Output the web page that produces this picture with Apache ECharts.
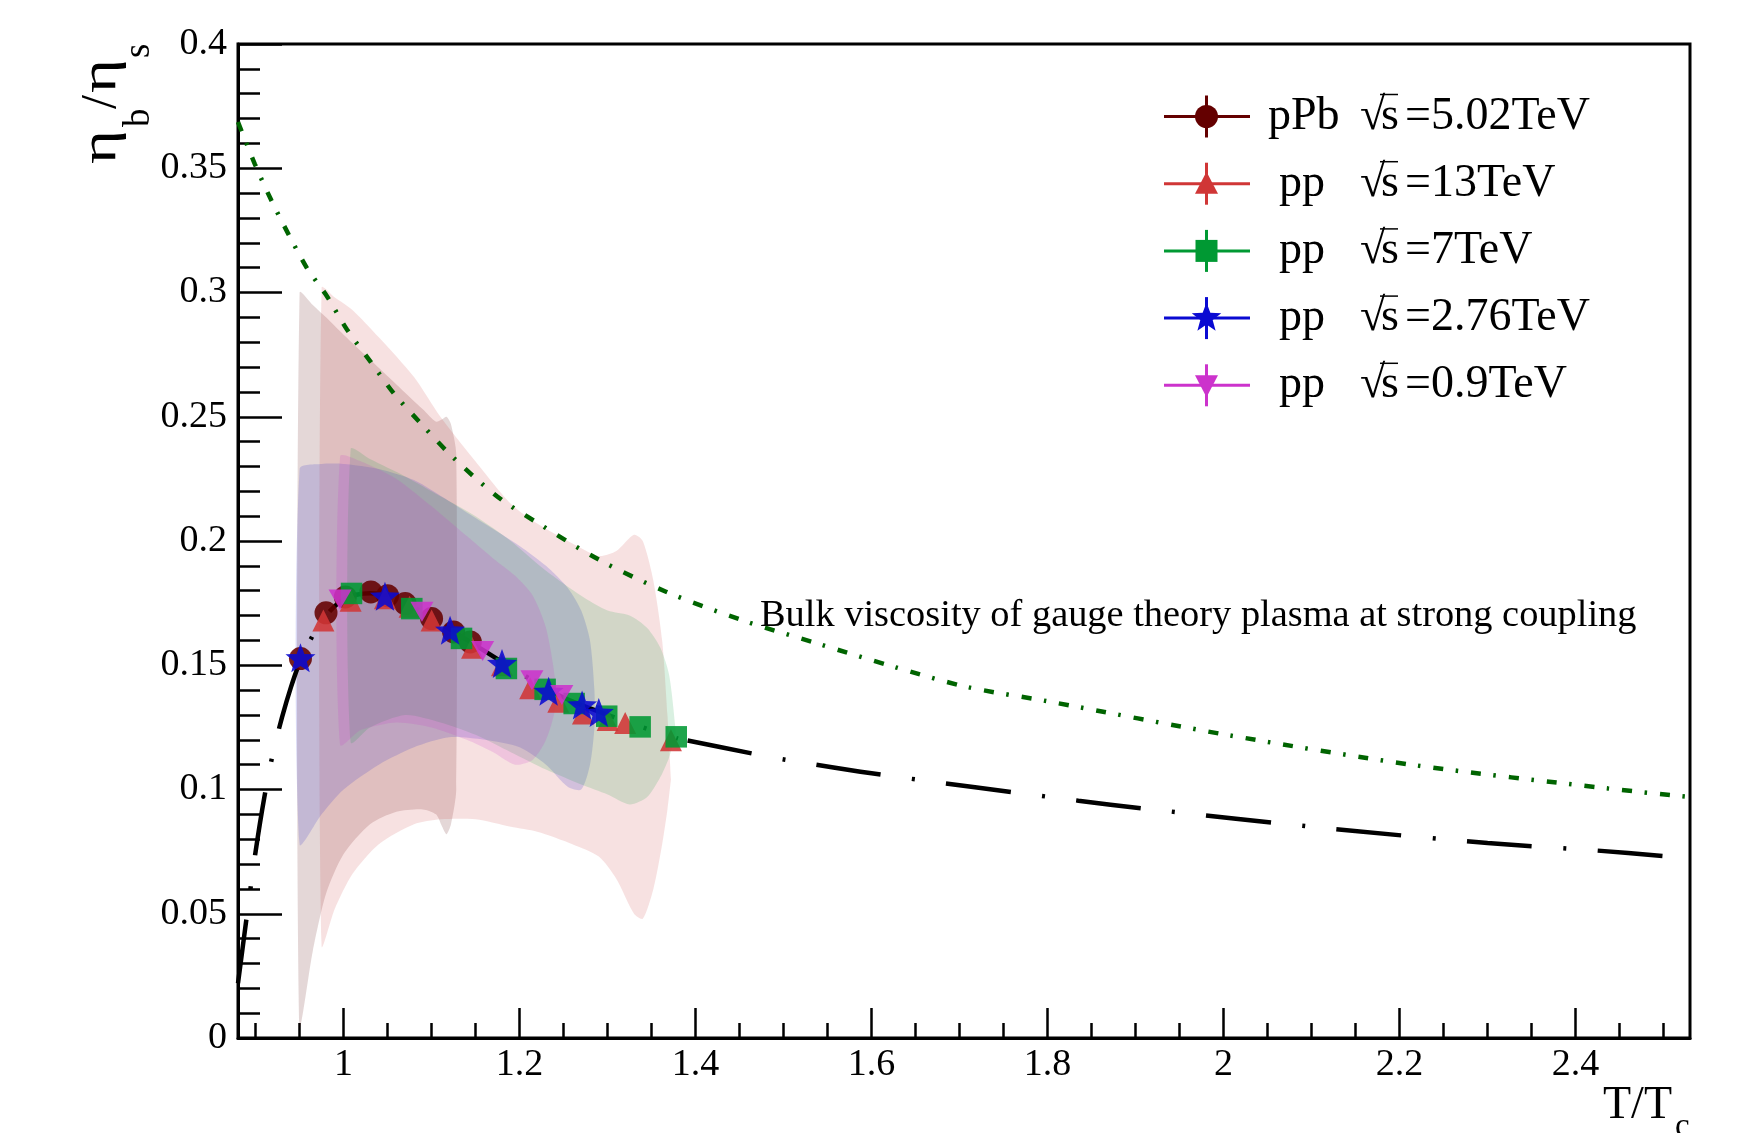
<!DOCTYPE html>
<html>
<head>
<meta charset="utf-8">
<script src="https://cdn.jsdelivr.net/npm/echarts@6/dist/echarts.min.js"></script>
<style>
html, body { margin: 0; padding: 0; background: #fff; }
#chart { width: 1739px; height: 1133px; }
</style>
</head>
<body>
<div id="chart"></div>
<script>
const FONT = '"Liberation Serif", "Times New Roman", serif';

// ---- axis ticks ----
const xMajorTicks = [1, 1.2, 1.4, 1.6, 1.8, 2, 2.2, 2.4];
const xMinorTicks = [0.9, 0.95, 1.05, 1.1, 1.15, 1.25, 1.3, 1.35, 1.45, 1.5, 1.55, 1.65, 1.7, 1.75,
  1.85, 1.9, 1.95, 2.05, 2.1, 2.15, 2.25, 2.3, 2.35, 2.45, 2.5];

// ---- measured points: T/Tc and eta_b/eta_s ----
const pPbT = [0.951, 0.980, 1.002, 1.031, 1.050, 1.070, 1.100, 1.125, 1.144];
const pPbR = [0.1527, 0.1711, 0.1775, 0.1795, 0.1780, 0.1748, 0.1688, 0.1634, 0.1594];

const pp13T = [0.977, 1.008, 1.047, 1.075, 1.100, 1.146, 1.180, 1.212, 1.244, 1.272, 1.300, 1.320, 1.372];
const pp13R = [0.1680, 0.1760, 0.1770, 0.1735, 0.1680, 0.1570, 0.1500, 0.1407, 0.1353, 0.1306, 0.1280, 0.1268, 0.1198];

const pp7T = [1.009, 1.0775, 1.134, 1.185, 1.229, 1.262, 1.299, 1.337, 1.378];
const pp7R = [0.1789, 0.1728, 0.1608, 0.1487, 0.1403, 0.1346, 0.1295, 0.1252, 0.1212];

const pp276T = [0.951, 1.047, 1.121, 1.180, 1.233, 1.271, 1.290];
const pp276R = [0.1530, 0.1778, 0.1641, 0.1507, 0.1395, 0.1340, 0.1310];

const pp09T = [0.996, 1.089, 1.158, 1.214, 1.248];
const pp09R = [0.1765, 0.1715, 0.1557, 0.1440, 0.1380];

// ---- uncertainty bands (lower / upper edge) ----
const bandPPbT  = [0.950, 0.965, 0.980, 1.000, 1.030, 1.060, 1.090, 1.105, 1.112, 1.117, 1.122, 1.128];
const bandPPbHi = [0.300, 0.295, 0.290, 0.283, 0.273, 0.263, 0.253, 0.248, 0.249, 0.250, 0.247, 0.235];
const bandPPbLo = [0.005, 0.035, 0.058, 0.074, 0.086, 0.091, 0.092, 0.090, 0.085, 0.082, 0.086, 0.100];

const band13T  = [0.975, 0.990, 1.010, 1.040, 1.080, 1.110, 1.150, 1.190, 1.220, 1.260, 1.290, 1.310, 1.330, 1.340, 1.352, 1.362, 1.368, 1.372];
const band13Hi = [0.302, 0.298, 0.293, 0.282, 0.266, 0.250, 0.232, 0.215, 0.207, 0.199, 0.194, 0.196, 0.2025, 0.200, 0.184, 0.160, 0.130, 0.104];
const band13Lo = [0.037, 0.052, 0.066, 0.078, 0.086, 0.088, 0.088, 0.085, 0.083, 0.078, 0.073, 0.064, 0.050, 0.048, 0.060, 0.078, 0.092, 0.104];

const band7T  = [1.008, 1.030, 1.070, 1.110, 1.150, 1.190, 1.230, 1.270, 1.300, 1.325, 1.345, 1.360, 1.370, 1.377];
const band7Hi = [0.237, 0.233, 0.226, 0.218, 0.210, 0.200, 0.188, 0.178, 0.172, 0.170, 0.165, 0.157, 0.146, 0.125];
const band7Lo = [0.119, 0.125, 0.130, 0.127, 0.122, 0.115, 0.108, 0.102, 0.098, 0.094, 0.097, 0.105, 0.113, 0.122];

const band276T  = [0.950, 0.975, 1.000, 1.040, 1.080, 1.120, 1.160, 1.200, 1.230, 1.255, 1.270, 1.280, 1.285];
const band276Hi = [0.229, 0.231, 0.231, 0.229, 0.2245, 0.216, 0.207, 0.198, 0.190, 0.181, 0.172, 0.160, 0.140];
const band276Lo = [0.078, 0.090, 0.100, 0.110, 0.117, 0.121, 0.120, 0.117, 0.110, 0.101, 0.100, 0.110, 0.125];

const band09T  = [0.996, 1.020, 1.060, 1.100, 1.140, 1.170, 1.195, 1.215, 1.230, 1.240];
const band09Hi = [0.234, 0.232, 0.225, 0.214, 0.202, 0.193, 0.186, 0.178, 0.165, 0.145];
const band09Lo = [0.118, 0.124, 0.127, 0.125, 0.120, 0.115, 0.110, 0.112, 0.120, 0.132];

// ---- model curves ----
// fit through the data, continued to higher temperature
const fitT = [0.880, 0.890, 0.900, 0.910, 0.920, 0.930, 0.940, 0.950, 0.965, 0.980, 1.000, 1.030, 1.060,
  1.100, 1.150, 1.200, 1.250, 1.300, 1.340, 1.380, 1.464, 1.502, 1.600, 1.835, 1.908, 2.120, 2.300, 2.429, 2.500];
const fitR = [0.022, 0.049, 0.075, 0.097, 0.115, 0.129, 0.141, 0.151, 0.162, 0.170, 0.1765, 0.179, 0.177,
  0.169, 0.158, 0.147, 0.137, 0.130, 0.125, 0.1205, 0.1145, 0.112, 0.1065, 0.0955, 0.0924, 0.0843, 0.0785, 0.0753, 0.0732];
const fitSplitT = 1.380;   // the fit is stroked in two pieces, joined here

// strong-coupling gauge theory plasma
const holoT = [0.880, 0.899, 0.918, 0.937, 0.958, 0.970, 0.982, 1.004, 1.031, 1.057, 1.086, 1.116, 1.148,
  1.180, 1.218, 1.291, 1.367, 1.454, 1.538, 1.625, 1.708, 1.800, 2.005, 2.217, 2.437, 2.530];
const holoR = [0.3686, 0.3518, 0.3370, 0.3237, 0.3100, 0.3040, 0.2980, 0.2850, 0.2720, 0.2594, 0.2480, 0.2366, 0.2259,
  0.2165, 0.2078, 0.1923, 0.1795, 0.1680, 0.1588, 0.1494, 0.1413, 0.1355, 0.1219, 0.1098, 0.1004, 0.0970];

// ---- legend entries ----
const legendSystems = ['pPb', 'pp', 'pp', 'pp', 'pp'];
const legendEnergies = ['=5.02TeV', '=13TeV', '=7TeV', '=2.76TeV', '=0.9TeV'];

const C_PPB = '#640000', C_13 = '#d03636', C_7 = '#009933', C_276 = '#0a0ad2', C_09 = '#cc33cc';

const measureCtx = document.createElement('canvas').getContext('2d');
function textWidth(t, font) { measureCtx.font = font; return measureCtx.measureText(t).width; }

function starPath(inner) {
  let d = '';
  for (let i = 0; i < 10; i++) {
    const r = i % 2 === 0 ? 50 : 50 * inner;
    const a = -Math.PI / 2 + i * Math.PI / 5;
    d += (i === 0 ? 'M' : 'L') + (50 + r * Math.cos(a)).toFixed(2) + ',' + (50 + r * Math.sin(a)).toFixed(2);
  }
  return 'path://' + d + 'Z';
}
const STAR = starPath(0.42);

const pairs = (xs, ys) => xs.map((x, i) => [x, ys[i]]);

function bandSeries(xs, lo, hi, fill) {
  return {
    type: 'custom',
    silent: true,
    z: 1,
    data: [[xs[0], hi[0]]],
    renderItem: function (params, api) {
      const pts = [];
      for (let i = 0; i < xs.length; i++) pts.push(api.coord([xs[i], hi[i]]));
      for (let i = xs.length - 1; i >= 0; i--) pts.push(api.coord([xs[i], lo[i]]));
      return { type: 'polygon', shape: { points: pts, smooth: 0.25 }, style: { fill: fill, stroke: null } };
    }
  };
}

function markerSeries(xs, ys, symbol, size, color, z, rotate) {
  return {
    type: 'scatter', data: pairs(xs, ys), symbol: symbol, symbolSize: size,
    symbolRotate: rotate || 0, z: z, silent: true,
    itemStyle: { color: color, opacity: 0.88 }
  };
}

// legend drawn as graphic rows
const legendGraphics = [];
const legendRowY = 116.5, legendStep = 67.2;
const legendMarkers = [
  { type: 'circle', color: C_PPB },
  { type: 'tri', color: C_13 },
  { type: 'rect', color: C_7 },
  { type: 'star', color: C_276 },
  { type: 'itri', color: C_09 }
];
legendSystems.forEach((sys, i) => {
  const cy = legendRowY + i * legendStep, cx = 1206.5;
  const m = legendMarkers[i];
  const children = [
    { type: 'line', shape: { x1: 1164, y1: cy, x2: 1250, y2: cy }, style: { stroke: m.color, lineWidth: 3 } },
    { type: 'line', shape: { x1: cx, y1: cy - 21, x2: cx, y2: cy + 21 }, style: { stroke: m.color, lineWidth: 3 } }
  ];
  if (m.type === 'circle') children.push({ type: 'circle', shape: { cx: cx, cy: cy, r: 11.5 }, style: { fill: m.color } });
  if (m.type === 'tri') children.push({ type: 'polygon', shape: { points: [[cx, cy - 12], [cx + 11.5, cy + 10], [cx - 11.5, cy + 10]] }, style: { fill: m.color } });
  if (m.type === 'itri') children.push({ type: 'polygon', shape: { points: [[cx, cy + 12], [cx + 11.5, cy - 10], [cx - 11.5, cy - 10]] }, style: { fill: m.color } });
  if (m.type === 'rect') children.push({ type: 'rect', shape: { x: cx - 11, y: cy - 11, width: 22, height: 22 }, style: { fill: m.color } });
  if (m.type === 'star') {
    const pts = [];
    for (let k = 0; k < 10; k++) {
      const r = k % 2 === 0 ? 15.5 : 6.5;
      const a = -Math.PI / 2 + k * Math.PI / 5;
      pts.push([cx + r * Math.cos(a), cy + r * Math.sin(a)]);
    }
    children.push({ type: 'polygon', shape: { points: pts }, style: { fill: m.color } });
  }
  children.push({ type: 'text', x: sys === 'pPb' ? 1268 : 1279, y: cy, style: { text: sys, font: '46px ' + FONT, fill: '#000', verticalAlign: 'middle' } });
  children.push({ type: 'text', x: 1360, y: cy, style: { text: '\u221A', font: '46px ' + FONT, fill: '#000', verticalAlign: 'middle' } });
  children.push({ type: 'text', x: 1381, y: cy, style: { text: 's', font: '46px ' + FONT, fill: '#000', verticalAlign: 'middle' } });
  children.push({ type: 'line', shape: { x1: 1380, y1: cy - 22, x2: 1398, y2: cy - 22 }, style: { stroke: '#000', lineWidth: 1.5 } });
  children.push({ type: 'text', x: 1405, y: cy, style: { text: legendEnergies[i], font: '46px ' + FONT, fill: '#000', verticalAlign: 'middle' } });
  legendGraphics.push({ type: 'group', silent: true, children: children });
});

// rotated y-axis title: eta_b / eta_s, laid out piece by piece along the text direction
const etaFont = '50px ' + FONT, subFont = '37px ' + FONT;
const etaScale = 34 / textWidth('\u03B7', etaFont);
const yTitlePieces = [
  { t: '\u03B7', font: etaFont, at: 0, sub: false, sx: etaScale },
  { t: 'b', font: subFont, at: 37, sub: true, sx: 1 },
  { t: '/', font: etaFont, at: 55, sub: false, sx: 1 },
  { t: '\u03B7', font: etaFont, at: 71, sub: false, sx: etaScale },
  { t: 's', font: subFont, at: 106, sub: true, sx: 1 }
];
const yTitle = {
  type: 'group', silent: true, x: 127, y: 164, rotation: Math.PI / 2,
  children: yTitlePieces.map(p => ({
    type: 'text', x: p.at, y: p.sub ? 31 : 0, scaleX: p.sx,
    style: { text: p.t, font: p.font, fill: '#000', verticalAlign: 'bottom' }
  }))
};

const option = {
  animation: false,
  backgroundColor: '#fff',
  grid: { left: 238, right: 49, top: 44, bottom: 95, show: true, borderColor: '#000', borderWidth: 3, backgroundColor: 'transparent' },
  xAxis: [
    {
      type: 'value', min: 0.88, max: 2.53,
      axisLine: { show: true, onZero: false, lineStyle: { color: '#000', width: 3 } },
      axisTick: { show: true, inside: true, length: 30, customValues: xMajorTicks, lineStyle: { color: '#000', width: 2.5 } },
      axisLabel: { show: true, customValues: xMajorTicks, margin: 8, color: '#000', fontFamily: FONT, fontSize: 38 },
      splitLine: { show: false }
    },
    {
      type: 'value', min: 0.88, max: 2.53, position: 'bottom',
      axisLine: { show: false },
      axisTick: { show: true, inside: true, length: 15, customValues: xMinorTicks, lineStyle: { color: '#000', width: 2.5 } },
      axisLabel: { show: false },
      splitLine: { show: false }
    }
  ],
  yAxis: {
    type: 'value', min: 0, max: 0.4, interval: 0.05,
    axisLine: { show: true, onZero: false, lineStyle: { color: '#000', width: 3 } },
    axisTick: { show: true, inside: true, length: 44, lineStyle: { color: '#000', width: 2.5 } },
    minorTick: { show: true, splitNumber: 5, length: 22, lineStyle: { color: '#000', width: 2.5 } },
    axisLabel: { margin: 11, color: '#000', fontFamily: FONT, fontSize: 38 },
    splitLine: { show: false }, minorSplitLine: { show: false }
  },
  series: [
    bandSeries(bandPPbT, bandPPbLo, bandPPbHi, 'rgba(95,15,15,0.17)'),
    bandSeries(band13T, band13Lo, band13Hi, 'rgba(204,51,51,0.15)'),
    bandSeries(band276T, band276Lo, band276Hi, 'rgba(51,51,204,0.19)'),
    bandSeries(band7T, band7Lo, band7Hi, 'rgba(0,153,51,0.15)'),
    bandSeries(band09T, band09Lo, band09Hi, 'rgba(204,51,204,0.17)'),
    {
      type: 'line', data: pairs(holoT, holoR), smooth: 0.3, showSymbol: false, silent: true, z: 2,
      lineStyle: { color: '#006400', width: 4.5, type: [10, 12.5, 2.5, 13], cap: 'butt' }
    },
    {
      type: 'line', data: pairs(fitT, fitR).filter(p => p[0] <= fitSplitT), smooth: 0.3, showSymbol: false, silent: true, z: 2,
      lineStyle: { color: '#000', width: 4.5, type: [64, 31, 3, 31], cap: 'butt' }
    },
    {
      type: 'line', data: pairs(fitT, fitR).filter(p => p[0] >= fitSplitT), smooth: 0.3, showSymbol: false, silent: true, z: 2,
      lineStyle: { color: '#000', width: 4.5, type: [65, 31.5, 3, 31.5], dashOffset: 121, cap: 'butt' }
    },
    markerSeries(pPbT, pPbR, 'circle', 23, C_PPB, 3),
    markerSeries(pp13T, pp13R, 'triangle', 22, C_13, 4),
    markerSeries(pp7T, pp7R, 'rect', 21.5, C_7, 5),
    markerSeries(pp276T, pp276R, STAR, [30, 29], C_276, 6),
    markerSeries(pp09T, pp09R, 'triangle', [23, 20], C_09, 7, 180)
  ],
  graphic: [
    { type: 'text', silent: true, x: 760, y: 615.5, style: { text: 'Bulk viscosity of gauge theory plasma at strong coupling', font: '38.4px ' + FONT, fill: '#000', verticalAlign: 'middle' } },
    yTitle,
    {
      type: 'group', silent: true, x: 1603, y: 1129,
      children: [
        { type: 'text', x: 0, y: 0, style: { text: 'T/T', font: '46px ' + FONT, fill: '#000', verticalAlign: 'bottom' } },
        { type: 'text', x: 72, y: 15, style: { text: 'c', font: '33px ' + FONT, fill: '#000', verticalAlign: 'bottom' } }
      ]
    }
  ].concat(legendGraphics)
};

const chart = echarts.init(document.getElementById('chart'));
chart.setOption(option);
</script>
</body>
</html>
